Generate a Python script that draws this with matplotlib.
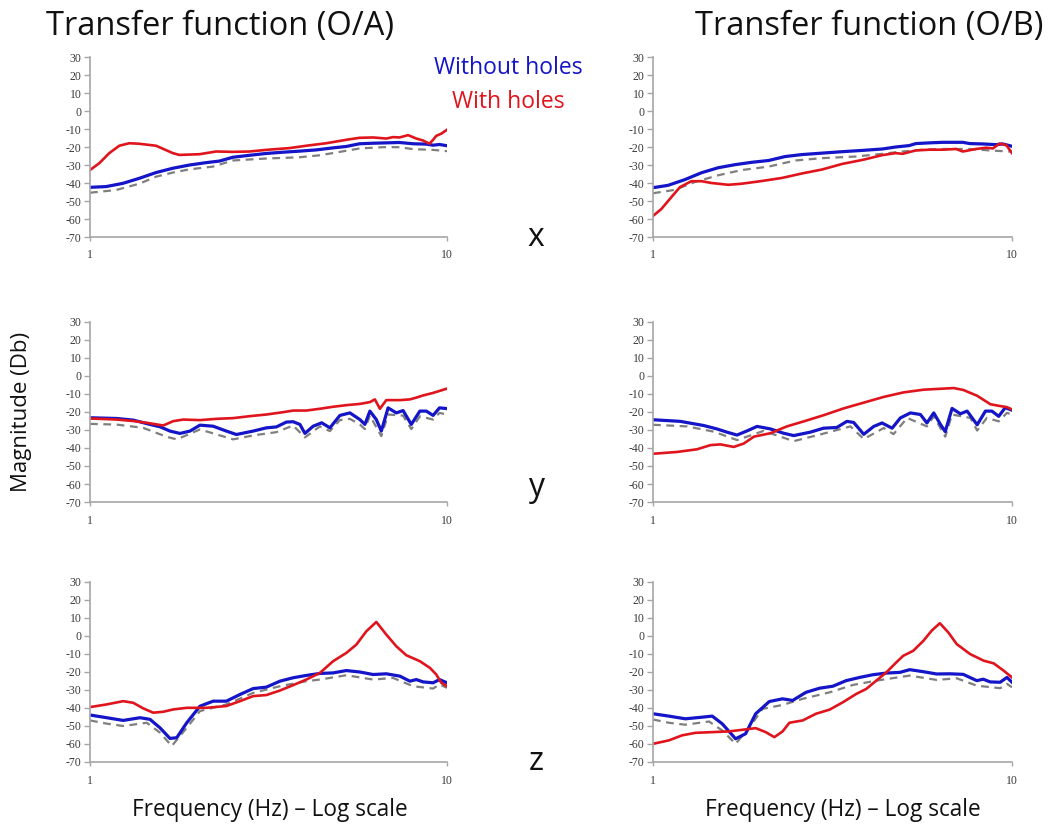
import numpy as np
import matplotlib
matplotlib.use("Agg")
import matplotlib.pyplot as plt

plt.rcParams['axes.unicode_minus'] = False

# log10(frequency) positions read off each panel, and magnitudes in dB
# --- O/A, x direction ---
xa_red_lf = [0, .026, .054, .082, .110, .138, .185, .232, .250, .307, .353, .400, .447, .493, .559, .606,
             .662, .718, .755, .793, .830, .849, .867, .891, .914, .933, .951, .961, .970, .984, 1.0]
xa_red = [-32.8, -29.0, -23.4, -19.3, -17.9, -18.2, -19.3, -23.4, -24.4, -24.0, -22.5, -22.7, -22.5, -21.6,
          -20.6, -19.3, -17.9, -16.0, -14.9, -14.7, -15.3, -14.5, -14.7, -13.4, -15.3, -16.4, -18.2, -16.0,
          -13.8, -12.6, -10.4]
xa_blue_lf = [0, .045, .092, .138, .185, .232, .279, .325, .363, .400, .447, .493, .540, .587, .634, .680,
              .718, .755, .793, .830, .867, .905, .942, .961, .979, 1.0]
xa_blue = [-42.4, -42.0, -40.2, -37.4, -34.2, -31.8, -30.0, -28.7, -27.8, -25.7, -24.6, -23.6, -22.9, -22.3,
           -21.6, -20.5, -19.7, -18.2, -17.9, -17.7, -17.5, -18.2, -18.4, -19.0, -18.6, -19.3]
xa_gray_lf = [0, .073, .138, .185, .232, .279, .344, .400, .493, .587, .643, .680, .755, .821, .867, .905,
              .961, 1.0]
xa_gray = [-45.4, -43.9, -40.4, -36.5, -34.2, -32.4, -30.9, -27.5, -26.4, -25.7, -24.6, -23.4, -20.8, -20.1,
           -20.1, -21.2, -21.6, -22.3]

# --- O/B, x direction ---
xb_red_lf = [0, .023, .051, .075, .107, .135, .163, .210, .247, .303, .359, .415, .471, .527, .583, .639,
             .676, .695, .732, .770, .807, .844, .863, .900, .928, .947, .965, .984, 1.0]
xb_red = [-58.3, -54.5, -47.9, -42.3, -39.0, -39.0, -40.0, -41.0, -40.4, -38.9, -37.2, -34.7, -32.5, -29.4,
          -27.2, -24.5, -23.4, -23.8, -21.9, -21.5, -21.5, -21.1, -22.5, -21.1, -20.4, -20.8, -18.1, -18.9,
          -23.4]
xb_blue_lf = [0, .042, .089, .135, .182, .229, .275, .322, .368, .415, .471, .527, .583, .639, .676, .714,
              .732, .770, .807, .863, .882, .919, .956, .974, 1.0]
xb_blue = [-42.6, -41.3, -38.1, -34.3, -31.5, -29.8, -28.5, -27.5, -25.3, -24.2, -23.4, -22.6, -21.9, -21.1,
           -20.0, -19.2, -18.1, -17.7, -17.4, -17.4, -18.1, -18.3, -18.7, -18.3, -19.6]
xb_gray_lf = [0, .061, .117, .182, .247, .322, .396, .471, .564, .639, .695, .751, .807, .882, .938, 1.0]
xb_gray = [-45.7, -43.8, -39.4, -35.7, -32.8, -30.9, -27.5, -26.2, -25.3, -23.8, -22.5, -21.5, -21.1, -21.1,
           -21.9, -22.6]

# --- O/A, y direction ---
ya_red_lf = [0, .075, .121, .159, .187, .205, .233, .261, .308, .354, .401, .448, .494, .541, .569, .606,
             .644, .681, .718, .756, .784, .798, .812, .821, .830, .868, .896, .914, .933, .961, 1.0]
ya_red = [-23.6, -24.2, -25.0, -26.0, -26.9, -27.5, -25.1, -24.2, -24.5, -23.8, -23.4, -22.3, -21.4, -20.1,
          -19.2, -19.2, -18.2, -17.1, -16.2, -15.5, -14.5, -13.0, -18.2, -15.8, -13.4, -13.4, -13.0, -12.0,
          -10.8, -9.4, -7.0]
ya_blue_lf = [0, .075, .121, .168, .196, .224, .252, .280, .308, .345, .382, .410, .457, .494, .522, .550,
              .569, .588, .602, .625, .649, .672, .700, .728, .756, .770, .784, .802, .816, .835, .858, .877,
              .900, .924, .942, .961, .979, 1.0]
ya_blue = [-23.2, -23.6, -24.5, -26.9, -28.2, -30.6, -31.9, -30.6, -27.3, -27.9, -30.6, -32.5, -30.6, -28.8,
           -28.3, -25.6, -25.4, -26.9, -31.9, -27.9, -26.0, -28.8, -21.9, -20.5, -24.2, -26.9, -19.5, -24.2,
           -30.6, -17.7, -20.5, -19.2, -26.9, -19.5, -19.5, -21.9, -17.7, -18.1]
ya_gray_lf = [0, .075, .149, .215, .243, .308, .401, .457, .522, .569, .602, .644, .672, .700, .728, .756,
              .770, .784, .816, .835, .877, .900, .924, .961, .979, 1.0]
ya_gray = [-26.6, -27.0, -28.8, -33.8, -35.2, -29.7, -35.2, -33.0, -31.2, -27.5, -34.1, -28.0, -30.6, -24.5,
           -23.8, -27.0, -29.5, -22.0, -33.4, -21.4, -22.0, -29.5, -22.4, -24.2, -20.5, -21.4]

# --- O/B, y direction ---
yb_red_lf = [0, .067, .123, .160, .188, .225, .253, .281, .327, .373, .420, .475, .531, .587, .643, .698,
             .754, .791, .838, .865, .903, .940, .967, .986, 1.0]
yb_red = [-43.2, -42.2, -40.7, -38.4, -38.0, -39.4, -37.5, -33.7, -31.8, -28.0, -25.2, -21.8, -18.0, -14.8,
          -11.6, -9.1, -7.6, -7.2, -6.7, -7.8, -11.0, -15.7, -16.7, -17.3, -18.6]
yb_blue_lf = [0, .076, .141, .178, .206, .234, .262, .290, .327, .364, .392, .438, .475, .512, .540, .559,
              .587, .615, .638, .666, .689, .717, .745, .763, .782, .801, .814, .833, .856, .875, .903, .926,
              .944, .963, .981, 1.0]
yb_blue = [-24.3, -25.2, -27.5, -29.4, -31.2, -32.8, -30.5, -28.0, -29.4, -31.8, -33.1, -31.2, -29.0, -28.6,
           -25.2, -25.8, -32.4, -28.0, -26.1, -29.0, -23.3, -20.5, -21.4, -26.1, -20.5, -27.0, -30.9, -18.0,
           -21.0, -19.5, -27.1, -19.5, -19.5, -22.4, -17.6, -19.0]
yb_gray_lf = [0, .095, .169, .234, .308, .392, .475, .550, .587, .643, .670, .708, .763, .782, .814, .833,
              .884, .903, .930, .963, .986, 1.0]
yb_gray = [-27.1, -28.0, -30.9, -35.6, -30.5, -36.2, -32.0, -28.0, -35.0, -28.9, -32.3, -23.3, -28.0, -22.4,
           -33.7, -21.4, -23.3, -30.3, -23.3, -25.2, -20.5, -21.4]

# --- O/A, z direction ---
za_red_lf = [0, .047, .093, .121, .149, .177, .205, .233, .271, .326, .382, .420, .457, .494, .532, .569,
             .606, .644, .681, .718, .746, .774, .802, .830, .858, .886, .924, .952, .970, .984, 1.0]
za_red = [-39.5, -38.0, -36.2, -37.1, -40.2, -42.6, -42.1, -40.8, -39.9, -39.9, -38.9, -36.2, -33.4, -32.8,
          -30.3, -27.3, -24.2, -20.5, -14.0, -9.4, -4.8, 2.6, 7.8, 0.8, -5.7, -10.7, -14.0, -17.7, -21.4,
          -26.0, -27.9]
za_blue_lf = [0, .047, .093, .140, .168, .196, .224, .243, .271, .308, .345, .382, .420, .457, .494, .532,
              .569, .606, .644, .681, .718, .756, .793, .830, .868, .896, .914, .933, .961, .979, 1.0]
za_blue = [-43.9, -45.4, -46.9, -45.4, -46.3, -51.0, -56.9, -56.5, -48.2, -39.0, -36.2, -36.2, -32.5, -29.2,
           -28.4, -25.1, -23.2, -21.9, -20.8, -20.5, -19.2, -20.0, -21.4, -21.0, -22.3, -25.1, -24.2, -25.5,
           -26.0, -24.2, -26.0]
za_gray_lf = [0, .047, .093, .159, .196, .229, .271, .308, .382, .457, .532, .606, .644, .718, .793, .849,
              .905, .961, .979, 1.0]
za_gray = [-46.9, -48.7, -50.0, -48.2, -53.7, -61.1, -51.0, -41.7, -38.0, -31.6, -27.9, -25.1, -24.2, -21.8,
           -24.2, -23.3, -27.9, -29.2, -26.9, -28.8]

# --- O/B, z direction ---
zb_red_lf = [0, .044, .081, .118, .165, .212, .249, .286, .314, .338, .361, .380, .417, .454, .492, .529,
             .566, .594, .622, .650, .678, .697, .725, .753, .776, .799, .823, .846, .883, .921, .949, .977, 1.0]
zb_red = [-59.9, -58.0, -55.2, -53.8, -53.4, -53.0, -52.1, -51.2, -53.4, -56.2, -53.0, -48.2, -46.9, -43.2,
          -40.9, -36.8, -32.2, -29.4, -24.8, -20.2, -14.6, -11.0, -8.2, -2.7, 2.9, 7.1, 1.9, -4.5, -10.0,
          -13.7, -15.2, -19.3, -23.0]
zb_blue_lf = [0, .044, .090, .137, .165, .193, .230, .258, .286, .324, .361, .389, .426, .464, .501, .538,
              .576, .613, .650, .688, .715, .752, .790, .827, .864, .902, .920, .939, .967, .986, 1.0]
zb_blue = [-43.2, -44.5, -46.0, -45.1, -44.5, -48.8, -57.1, -54.3, -43.2, -36.4, -34.9, -35.8, -31.3, -29.0,
           -27.9, -24.8, -23.0, -21.5, -20.6, -20.2, -18.7, -19.8, -21.1, -21.0, -21.3, -24.8, -24.0, -25.5,
           -25.7, -23.0, -25.7]
zb_gray_lf = [0, .044, .090, .156, .193, .230, .268, .305, .361, .417, .492, .557, .622, .715, .790, .846,
              .902, .967, .986, 1.0]
zb_gray = [-46.4, -48.2, -49.3, -47.5, -52.5, -59.9, -51.0, -40.5, -38.3, -34.9, -31.3, -27.2, -24.8, -22.0,
           -24.4, -23.5, -27.6, -29.0, -26.6, -28.5]

y_ticks = [30, 20, 10, 0, -10, -20, -30, -40, -50, -60, -70]
directions = ["x", "y", "z"]

panels = [
    [(xa_gray_lf, xa_gray, xa_blue_lf, xa_blue, xa_red_lf, xa_red),
     (xb_gray_lf, xb_gray, xb_blue_lf, xb_blue, xb_red_lf, xb_red)],
    [(ya_gray_lf, ya_gray, ya_blue_lf, ya_blue, ya_red_lf, ya_red),
     (yb_gray_lf, yb_gray, yb_blue_lf, yb_blue, yb_red_lf, yb_red)],
    [(za_gray_lf, za_gray, za_blue_lf, za_blue, za_red_lf, za_red),
     (zb_gray_lf, zb_gray, zb_blue_lf, zb_blue, zb_red_lf, zb_red)],
]

BLUE = "#1414c8"
RED = "#e0141c"
GRAY = "#7f7f7f"
SPINE = "#a6a6a6"
SANS = "Open Sans"

fig = plt.figure(figsize=(10.57, 8.27), dpi=100)

col_left = [90 / 1057, 653 / 1057]
col_width = [357 / 1057, 359 / 1057]
row_bottom = [1 - 237 / 827, 1 - 502 / 827, 1 - 762 / 827]
row_height = 180 / 827

for r in range(3):
    for c in range(2):
        ax = fig.add_axes([col_left[c], row_bottom[r], col_width[c], row_height])
        glf, gv, blf, bv, rlf, rv = panels[r][c]
        ax.plot(10 ** np.array(glf), gv, color=GRAY, lw=1.6, ls=(0, (3.5, 2.5)))
        ax.plot(10 ** np.array(blf), bv, color=BLUE, lw=2.3, solid_joinstyle="round")
        ax.plot(10 ** np.array(rlf), rv, color=RED, lw=1.9, solid_joinstyle="round")
        ax.set_xscale("log")
        ax.set_xlim(1, 10)
        ax.set_ylim(-70, 30)
        ax.set_xticks([1, 10])
        ax.set_xticklabels(["1", "10"])
        ax.minorticks_off()
        ax.set_yticks(y_ticks)
        for s in ["top", "right"]:
            ax.spines[s].set_visible(False)
        for s in ["left", "bottom"]:
            ax.spines[s].set_color(SPINE)
            ax.spines[s].set_linewidth(1.2)
        ax.tick_params(axis="y", length=4, width=1, color=SPINE, pad=2)
        ax.tick_params(axis="x", length=3, width=1, color=SPINE, pad=6)
        for lab in ax.get_xticklabels() + ax.get_yticklabels():
            lab.set_fontfamily("Liberation Serif")
            lab.set_fontsize(8.5)
            lab.set_color("#3a3a3a")

fig.text(220 / 1057, 1 - 26 / 827, "Transfer function (O/A)", family=SANS, fontsize=23.5,
         ha="center", va="center", color="#111111")
fig.text(869 / 1057, 1 - 26 / 827, "Transfer function (O/B)", family=SANS, fontsize=23.5,
         ha="center", va="center", color="#111111")
fig.text(508 / 1057, 1 - 68 / 827, "Without holes", family=SANS, fontsize=16.5,
         ha="center", va="center", color=BLUE)
fig.text(508 / 1057, 1 - 102 / 827, "With holes", family=SANS, fontsize=16.5,
         ha="center", va="center", color=RED)
for d, yy in zip(directions, [237, 488, 762]):
    fig.text(536 / 1057, 1 - yy / 827, d, family=SANS, fontsize=23,
             ha="center", va="center", color="#111111")
fig.text(22 / 1057, 1 - 412 / 827, "Magnitude (Db)", family=SANS, fontsize=16,
         ha="center", va="center", rotation=90, color="#111111")
fig.text(270 / 1057, 1 - 810 / 827, "Frequency (Hz) \u2013 Log scale", family=SANS, fontsize=16.3,
         ha="center", va="center", color="#111111")
fig.text(843 / 1057, 1 - 810 / 827, "Frequency (Hz) \u2013 Log scale", family=SANS, fontsize=16.3,
         ha="center", va="center", color="#111111")

fig.savefig("out.png", dpi=100, facecolor="white")
